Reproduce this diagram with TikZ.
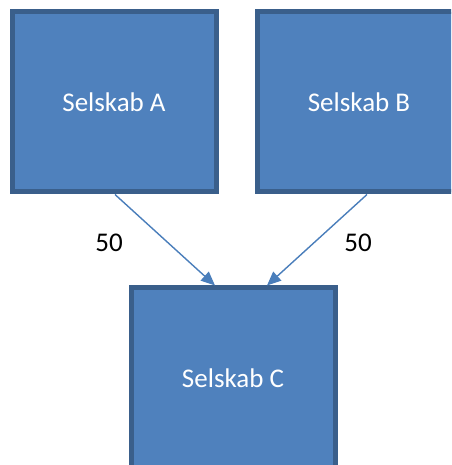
\documentclass[tikz,border=0pt]{standalone}
\usepackage{fontspec}
\setmainfont{Carlito}
\usetikzlibrary{arrows.meta,calc}
\definecolor{boxfill}{HTML}{4F81BD}
\definecolor{boxline}{HTML}{3A5F8B}
\definecolor{arrcol}{HTML}{4A7EBB}
\tikzset{
  company/.style={draw=boxline, fill=boxfill, line width=5pt, minimum width=204pt, minimum height=180pt, inner sep=0pt, text=white, font=\fontsize{27}{32}\selectfont},
  link/.style={draw=arrcol, line width=1.4pt, -{Triangle[length=14pt,width=12pt]}},
  share/.style={text=black, font=\fontsize{27}{32}\selectfont}
}
\begin{document}
\begin{tikzpicture}[x=1pt,y=1pt]
\useasboundingbox (0,0) rectangle (451,465);
\clip (0,0) rectangle (451,465);
\node[company] (A) at (114,363) {Selskab A};
\node[company] (B) at (359,363) {Selskab B};
\node[company] (C) at (233,87) {Selskab C};
\draw[link] ([xshift=1pt]A.south) -- ([xshift=-18pt]C.north);
\draw[link] ([xshift=8pt]B.south) -- ([xshift=34pt]C.north);
\node[share] (L1) at (109,222) {50};
\node[share] (L2) at (358,222) {50};
\end{tikzpicture}
\end{document}
